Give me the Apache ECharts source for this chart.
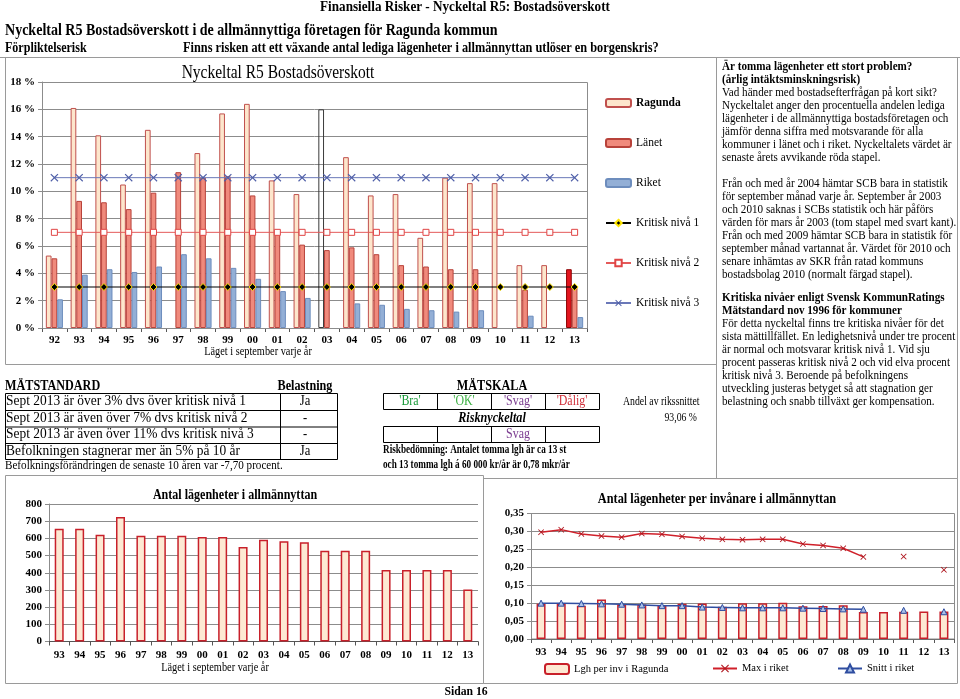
<!DOCTYPE html>
<html><head><meta charset="utf-8">
<script src="https://cdn.jsdelivr.net/npm/echarts@6/dist/echarts.min.js"></script>
<style>html,body{margin:0;padding:0;background:#fff}#c{width:960px;height:699px}</style>
</head><body><div id="c"></div>
<script>
// ---- data ----
const years = ['92','93','94','95','96','97','98','99','00','01','02','03','04','05','06','07','08','09','10','11','12','13'];
const ragunda = [5.3,16.1,14.1,10.5,14.5,null,12.8,15.7,16.4,10.8,9.8,16.0,12.5,9.7,9.8,6.6,11.0,10.6,10.6,4.6,4.6,4.3];
const lanet   = [5.1,9.3,9.2,8.7,9.9,11.4,11.0,11.1,9.7,7.2,6.1,5.7,5.9,5.4,4.6,4.5,4.3,4.3,null,2.8,null,3.1];
const riket   = [2.1,3.9,4.3,4.1,4.5,5.4,5.1,4.4,3.6,2.7,2.2,null,1.8,1.7,1.4,1.3,1.2,1.3,null,0.9,null,0.8];
const krit1 = [3,3,3,3,3,3,3,3,3,3,3,3,3,3,3,3,3,3,3,3,3,3];
const krit2 = [7,7,7,7,7,7,7,7,7,7,7,7,7,7,7,7,7,7,7,7,7,7];
const krit3 = [11,11,11,11,11,11,11,11,11,11,11,11,11,11,11,11,11,11,11,11,11,11];
const marsIndex = 11;   // 2003: mars value, empty bar
const latestIndex = 21; // 2013

const years2 = ['93','94','95','96','97','98','99','00','01','02','03','04','05','06','07','08','09','10','11','12','13'];
const lagenheter = [656,656,621,724,615,615,615,608,608,550,592,583,577,528,528,528,416,416,416,416,303];
const lghPerInv  = [0.098,0.098,0.093,0.110,0.096,0.096,0.094,0.098,0.099,0.090,0.100,0.100,0.101,0.091,0.092,0.094,0.075,0.075,0.076,0.077,0.077];
const maxRiket   = [0.298,0.305,0.293,0.287,0.284,0.294,0.292,0.286,0.281,0.278,0.277,0.278,0.278,0.265,0.261,0.253,0.229,null,0.230,null,0.193];
const snittRiket = [0.100,0.100,0.099,0.098,0.097,0.095,0.093,0.093,0.089,0.088,0.087,0.087,0.087,0.086,0.085,0.084,0.083,null,0.080,null,0.076];

// ---- helpers ----
const FF = '"Liberation Serif","Times New Roman",serif';
function T(text, x, y, o) {
  o = o || {};
  const a = o.a || 'left';
  return {type:'text', x:x, y:y, scaleX:(o.sx==null?0.8:o.sx), z:20,
    style:{text:text, font:(o.w||'normal')+' '+(o.s||12)+'px '+FF, fill:o.c||'#000',
      textAlign:a, align:a, textVerticalAlign:'middle', verticalAlign:'middle'}};
}
function R(x,y,w,h,stroke,lw){return {type:'rect',z:1,shape:{x:x,y:y,width:w,height:h},style:{fill:'none',stroke:stroke||'#9a9a9a',lineWidth:lw||1}};}
function L(x1,y1,x2,y2,stroke,lw){return {type:'line',z:1,shape:{x1:x1,y1:y1,x2:x2,y2:y2},style:{stroke:stroke||'#9a9a9a',lineWidth:lw||1}};}

const g = [];
// header
g.push(T('Finansiella Risker - Nyckeltal R5: Bostadsöverskott', 465, 7, {w:'bold', s:14, sx:0.94, a:'center'}));
g.push(T('Nyckeltal R5 Bostadsöverskott i de allmännyttiga företagen för Ragunda kommun', 5, 31, {w:'bold', s:17, sx:0.825}));
g.push(T('Förpliktelserisk', 5, 48, {w:'bold', s:14, sx:0.86}));
g.push(T('Finns risken att ett växande antal lediga lägenheter i allmännyttan utlöser en borgenskris?', 183, 48, {w:'bold', s:14, sx:0.88}));
g.push(L(0,57.5,960,57.5));
// frames
g.push(R(5.5,57.5,711,307));
g.push(R(716.5,57.5,241,421));
g.push(R(5.5,475.5,478,208));
g.push(R(483.5,478.5,474,205));
g.push(L(380,683.5,483,683.5));
// top chart
g.push(T('Nyckeltal R5 Bostadsöverskott', 278, 73, {s:18, sx:0.86, a:'center'}));
g.push(T('Läget i september varje år', 258, 352, {s:12, sx:0.86, a:'center'}));
g.push(R(42.5,82.5,545,246,'#8c8c8c'));
// right text panel
const panel = [
  ['Är tomma lägenheter ett stort problem?','bold',67],
  ['(årlig intäktsminskningsrisk)','bold',80],
  ['Vad händer med bostadsefterfrågan på kort sikt?','normal',93],
  ['Nyckeltalet anger den procentuella andelen lediga','normal',106],
  ['lägenheter i de allmännyttiga bostadsföretagen och','normal',119],
  ['jämför denna siffra med motsvarande för alla','normal',132],
  ['kommuner i länet och i riket. Nyckeltalets värdet är','normal',145],
  ['senaste årets avvikande röda stapel.','normal',158],
  ['Från och med år 2004 hämtar SCB bara in statistik','normal',184],
  ['för september månad varje år. September år 2003','normal',197],
  ['och 2010 saknas i SCBs statistik och här påförs','normal',210],
  ['värden för mars år 2003 (tom stapel med svart kant).','normal',223],
  ['Från och med 2009 hämtar SCB bara in statistik för','normal',236],
  ['september månad vartannat år. Värdet för 2010 och','normal',249],
  ['senare inhämtas av SKR från ratad kommuns','normal',262],
  ['bostadsbolag 2010 (normalt färgad stapel).','normal',275],
  ['Kritiska nivåer enligt Svensk KommunRatings','bold',298],
  ['Mätstandard nov 1996 för kommuner','bold',311],
  ['För detta nyckeltal finns tre kritiska nivåer för det','normal',324],
  ['sista mättillfället. En ledighetsnivå under tre procent','normal',337],
  ['är normal och motsvarar kritisk nivå 1. Vid sju','normal',350],
  ['procent passeras kritisk nivå 2 och vid elva procent','normal',363],
  ['kritisk nivå 3. Beroende på befolkningens','normal',376],
  ['utveckling justeras betyget så att stagnation ger','normal',389],
  ['belastning och snabb tillväxt ger kompensation.','normal',402]
];
panel.forEach(p => g.push(T(p[0], 722, p[2], {w:p[1], s:12.5, sx:0.89})));
// table left
g.push(T('MÄTSTANDARD', 5, 386, {w:'bold', s:14, sx:0.87}));
g.push(T('Belastning', 305, 386, {w:'bold', s:14, sx:0.87, a:'center'}));
g.push(T('MÄTSKALA', 492, 386, {w:'bold', s:14, sx:0.87, a:'center'}));
g.push(R(5.5,393.5,332,66,'#000'));
[410,426.5,443].forEach(y => g.push(L(5.5,y+0.5,337.5,y+0.5,'#000')));
g.push(L(280.5,393.5,280.5,459.5,'#000'));
const rows = [
  ['Sept 2013 är över 3% dvs över kritisk nivå 1','Ja',401.5],
  ['Sept 2013 är även över 7% dvs kritisk nivå 2','-',418],
  ['Sept 2013 är även över 11% dvs kritisk nivå 3','-',434.5],
  ['Befolkningen stagnerar mer än 5% på 10 år','Ja',451]
];
rows.forEach(r => { g.push(T(r[0], 6, r[2], {s:14, sx:0.96})); g.push(T(r[1], 305, r[2], {s:14, sx:0.9, a:'center'})); });
g.push(T('Befolkningsförändringen de senaste 10 åren var -7,70 procent.', 5, 466, {s:12.5, sx:0.89}));
// mätskala
g.push(R(383.5,393.5,216,16,'#000'));
[437.5,491.5,545.5].forEach(x => g.push(L(x,393.5,x,409.5,'#000')));
const scale = [['\'Bra\'','#1a9a3a',410],['\'OK\'','#3cb043',464],['\'Svag\'','#7a3b8f',518],['\'Dålig\'','#d0303a',572]];
scale.forEach(s => g.push(T(s[0], s[2], 401.5, {s:14, sx:0.85, a:'center', c:s[1]})));
g.push(T('Risknyckeltal', 492, 418, {w:'italic bold', s:14, sx:0.87, a:'center'}));
g.push(R(383.5,426.5,216,16,'#000'));
[437.5,491.5,545.5].forEach(x => g.push(L(x,426.5,x,442.5,'#000')));
g.push(T('Svag', 518, 434.5, {s:14, sx:0.85, a:'center', c:'#7a3b8f'}));
g.push(T('Riskbedömning: Antalet tomma lgh är ca 13 st', 383, 450, {w:'bold', s:11.5, sx:0.8}));
g.push(T('och 13 tomma lgh á 60 000 kr/år är 0,78 mkr/år', 383, 465, {w:'bold', s:11.5, sx:0.8}));
g.push(T('Andel av rikssnittet', 623, 402, {s:11.5, sx:0.85}));
g.push(T('93,06 %', 697, 418, {s:11.5, sx:0.85, a:'right'}));
// bottom charts
g.push(T('Antal lägenheter i allmännyttan', 235, 495, {w:'bold', s:14, sx:0.86, a:'center'}));
g.push(T('Läget i september varje år', 215, 668, {s:12, sx:0.86, a:'center'}));
g.push(T('Antal lägenheter per invånare i allmännyttan', 717, 499, {w:'bold', s:14, sx:0.88, a:'center'}));
g.push(R(531.5,513.5,423,125.5,'#8c8c8c'));
g.push(T('Sidan 16', 466, 692, {w:'bold', s:13, sx:0.9, a:'center'}));

// ---- option ----
const lblBold = {fontFamily:FF, fontWeight:'bold', fontSize:11, color:'#000'};
const gridLine = {show:true, lineStyle:{color:'#8c8c8c', width:1}};
const crossSym = 'path://M0,1L1,0L5,4L9,0L10,1L6,5L10,9L9,10L5,6L1,10L0,9L4,5Z';

const ragData = ragunda.map((v,i) => {
  if (i === marsIndex) return {value:v, itemStyle:{color:'rgba(255,255,255,0)', borderColor:'#3a3a3a', borderWidth:1}};
  if (i === latestIndex) return {value:v, itemStyle:{color:'#e3161f', borderColor:'#8b0000', borderWidth:1}};
  return v;
});

const option = {
  animation:false,
  backgroundColor:'#fff',
  grid:[
    {left:42, top:82, width:545, height:246},
    {left:49, top:504, width:429, height:137.5},
    {left:531, top:513.5, width:423, height:125.5}
  ],
  xAxis:[
    {gridIndex:0, type:'category', data:years, axisLine:{lineStyle:{color:'#000'}},
     axisTick:{show:true, length:4, lineStyle:{color:'#555'}}, axisLabel:Object.assign({margin:7}, lblBold)},
    {gridIndex:1, type:'category', data:years2, axisLine:{lineStyle:{color:'#555'}},
     axisTick:{show:true, length:4, lineStyle:{color:'#555'}}, axisLabel:Object.assign({margin:8}, lblBold)},
    {gridIndex:2, type:'category', data:years2, axisLine:{lineStyle:{color:'#555'}},
     axisTick:{show:true, length:4, lineStyle:{color:'#555'}}, axisLabel:Object.assign({margin:8}, lblBold)}
  ],
  yAxis:[
    {gridIndex:0, type:'value', min:0, max:18, interval:2, splitLine:gridLine,
     axisLine:{show:true, lineStyle:{color:'#8c8c8c'}}, axisTick:{show:true, length:4, lineStyle:{color:'#8c8c8c'}},
     axisLabel:Object.assign({margin:7, formatter:'{value} %'}, lblBold)},
    {gridIndex:1, type:'value', min:0, max:800, interval:100, splitLine:gridLine,
     axisLine:{show:true, lineStyle:{color:'#8c8c8c'}}, axisTick:{show:true, length:4, lineStyle:{color:'#8c8c8c'}},
     axisLabel:Object.assign({margin:7}, lblBold)},
    {gridIndex:2, type:'value', min:0, max:0.35, interval:0.05, splitLine:gridLine,
     axisLine:{show:true, lineStyle:{color:'#8c8c8c'}}, axisTick:{show:true, length:4, lineStyle:{color:'#8c8c8c'}},
     axisLabel:Object.assign({margin:7, formatter:v => v.toFixed(2).replace('.', ',')}, lblBold)}
  ],
  legend:[
    {orient:'vertical', left:605, top:96, padding:0, itemWidth:25, itemHeight:8, itemGap:26, selectedMode:false,
     data:['Ragunda','Länet','Riket','Kritisk nivå 1','Kritisk nivå 2','Kritisk nivå 3'],
     formatter:n => n === 'Ragunda' ? '{b|' + n + '}' : n,
     textStyle:{fontFamily:FF, fontSize:11.5, color:'#000', lineHeight:14, rich:{b:{fontWeight:'bold', fontFamily:FF, fontSize:11.5}}}},
    {left:544, top:663, padding:0, itemWidth:24, itemHeight:10, selectedMode:false, data:['Lgh per inv i Ragunda'],
     textStyle:{fontFamily:FF, fontSize:10.5, color:'#000'}},
    {left:712, top:663, padding:0, itemWidth:24, itemHeight:10, selectedMode:false, data:['Max i riket'],
     textStyle:{fontFamily:FF, fontSize:10.5, color:'#000'}},
    {left:837, top:663, padding:0, itemWidth:24, itemHeight:10, selectedMode:false, data:['Snitt i riket'],
     textStyle:{fontFamily:FF, fontSize:10.5, color:'#000'}}
  ],
  series:[
    {name:'Ragunda', type:'bar', xAxisIndex:0, yAxisIndex:0, data:ragData, barGap:'0%', barCategoryGap:'31%',
     itemStyle:{color:'#fde6cc', borderColor:'#c0504d', borderWidth:1}},
    {name:'Länet', type:'bar', xAxisIndex:0, yAxisIndex:0, data:lanet, barGap:'0%', barCategoryGap:'31%',
     itemStyle:{color:'#f08a7c', borderColor:'#b8423a', borderWidth:1}},
    {name:'Riket', type:'bar', xAxisIndex:0, yAxisIndex:0, data:riket, barGap:'0%', barCategoryGap:'31%',
     itemStyle:{color:'#93afd6', borderColor:'#6d8dbd', borderWidth:1}},
    {name:'Kritisk nivå 1', type:'line', xAxisIndex:0, yAxisIndex:0, data:krit1, symbol:'diamond', symbolSize:7,
     lineStyle:{color:'#000', width:1.2}, itemStyle:{color:'#000', borderColor:'#ffe600', borderWidth:1}, z:5},
    {name:'Kritisk nivå 2', type:'line', xAxisIndex:0, yAxisIndex:0, data:krit2, symbol:'rect', symbolSize:6,
     lineStyle:{color:'#e45a5a', width:1}, itemStyle:{color:'#fff', borderColor:'#e04545', borderWidth:1}, z:5},
    {name:'Kritisk nivå 3', type:'line', xAxisIndex:0, yAxisIndex:0, data:krit3, symbol:crossSym, symbolSize:8,
     lineStyle:{color:'#6a78b8', width:1}, itemStyle:{color:'#4f5fa8'}, z:5},
    {name:'Antal lgh', type:'bar', xAxisIndex:1, yAxisIndex:1, data:lagenheter, barWidth:9,
     itemStyle:{color:'#fde9d3', borderColor:'#c8202a', borderWidth:1.5}},
    {name:'Lgh per inv i Ragunda', type:'bar', xAxisIndex:2, yAxisIndex:2, data:lghPerInv, barWidth:9,
     itemStyle:{color:'#fde9d3', borderColor:'#c8202a', borderWidth:1.5}},
    {name:'Max i riket', type:'line', xAxisIndex:2, yAxisIndex:2, data:maxRiket, symbol:crossSym, symbolSize:6,
     connectNulls:false, lineStyle:{color:'#d0202a', width:1.5}, itemStyle:{color:'#b01820'}, z:5},
    {name:'Snitt i riket', type:'line', xAxisIndex:2, yAxisIndex:2, data:snittRiket, symbol:'triangle', symbolSize:6,
     connectNulls:false, lineStyle:{color:'#2f4da0', width:1.5}, itemStyle:{color:'#a8c0e8', borderColor:'#2f4da0', borderWidth:1}, z:5}
  ],
  graphic:{elements:g}
};
const chart = echarts.init(document.getElementById('c'), null, {renderer:'canvas'});
chart.setOption(option);
</script>
</body></html>
